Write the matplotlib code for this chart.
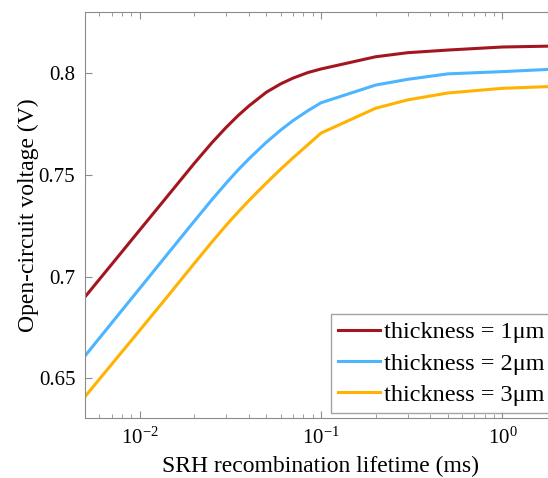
#!/usr/bin/env python3
# Open-circuit voltage vs SRH recombination lifetime for three absorber thicknesses.
import matplotlib

matplotlib.use("Agg")
import matplotlib.pyplot as plt
from matplotlib.ticker import LogFormatterMathtext, LogLocator, NullFormatter

plt.rcParams["font.family"] = ["Liberation Serif", "DejaVu Serif"]
plt.rcParams["mathtext.default"] = "regular"

# Lifetime samples (ms) and Voc (V)
LIFETIME_MS = [0.005, 0.007, 0.01, 0.014, 0.02, 0.025, 0.03, 0.035, 0.04, 0.05,
               0.06, 0.07, 0.085, 0.1, 0.2, 0.3, 0.5, 1.0, 2.0]
VOC_1UM = [0.6900, 0.7059, 0.7228, 0.7387, 0.7556, 0.7657, 0.7733, 0.7792, 0.7838, 0.7906,
           0.7947, 0.7975, 0.8003, 0.8020, 0.8080, 0.8100, 0.8113, 0.8128, 0.8133]
VOC_2UM = [0.6610, 0.6771, 0.6941, 0.7102, 0.7272, 0.7377, 0.7459, 0.7525, 0.7578, 0.7660,
           0.7720, 0.7766, 0.7816, 0.7854, 0.7941, 0.7969, 0.7996, 0.8007, 0.8020]
VOC_3UM = [0.6410, 0.6568, 0.6735, 0.6894, 0.7064, 0.7169, 0.7252, 0.7318, 0.7373, 0.7460,
           0.7528, 0.7583, 0.7649, 0.7705, 0.7827, 0.7868, 0.7902, 0.7925, 0.7935]

SERIES = [
    ("thickness = 1\u03bcm", VOC_1UM, "#A3161F"),
    ("thickness = 2\u03bcm", VOC_2UM, "#4DB4FF"),
    ("thickness = 3\u03bcm", VOC_3UM, "#FFB300"),
]

Y_TICKS = [0.65, 0.7, 0.75, 0.8]
Y_TICK_LABELS = ["0.65", "0.7", "0.75", "0.8"]

SPINE_COLOR = "#8C8C8C"

fig = plt.figure(figsize=(5.48, 4.78), dpi=100)
# axes runs past the right edge like the cropped original
ax = fig.add_axes([85 / 548, 60 / 478, 472 / 548, 406 / 478])

for label, values, color in SERIES:
    ax.plot(LIFETIME_MS, values, color=color, linewidth=2.2, label=label)

ax.set_xscale("log")
ax.set_xlim(0.005, 2.0)
ax.set_ylim(0.6305, 0.830)

ax.xaxis.set_major_locator(LogLocator(base=10))
ax.xaxis.set_minor_locator(LogLocator(base=10, subs=range(2, 10)))
ax.xaxis.set_major_formatter(LogFormatterMathtext())
ax.xaxis.set_minor_formatter(NullFormatter())
ax.set_yticks(Y_TICKS)
ax.set_yticklabels(Y_TICK_LABELS)

ax.tick_params(axis="both", which="both", direction="in", color=SPINE_COLOR,
               top=True, right=False, labelsize=15, pad=7)
ax.tick_params(axis="both", which="major", length=5)
ax.tick_params(axis="x", which="minor", length=3)
for side in ("left", "bottom", "top"):
    ax.spines[side].set_color(SPINE_COLOR)
ax.spines["right"].set_visible(False)

ax.set_xlabel("SRH recombination lifetime (ms)", fontsize=17, labelpad=5)
ax.set_ylabel("Open-circuit voltage (V)", fontsize=17, labelpad=-0.5)

ax.legend(
    loc="upper left",
    bbox_to_anchor=(331 / 548, 1 - 314 / 478),
    bbox_transform=fig.transFigure,
    fontsize=17.5,
    frameon=True,
    fancybox=False,
    edgecolor=SPINE_COLOR,
    handlelength=1.7,
    handletextpad=0.2,
    labelspacing=0.38,
    borderpad=0.3,
    borderaxespad=0,
)

fig.savefig("out.png", dpi=100)
